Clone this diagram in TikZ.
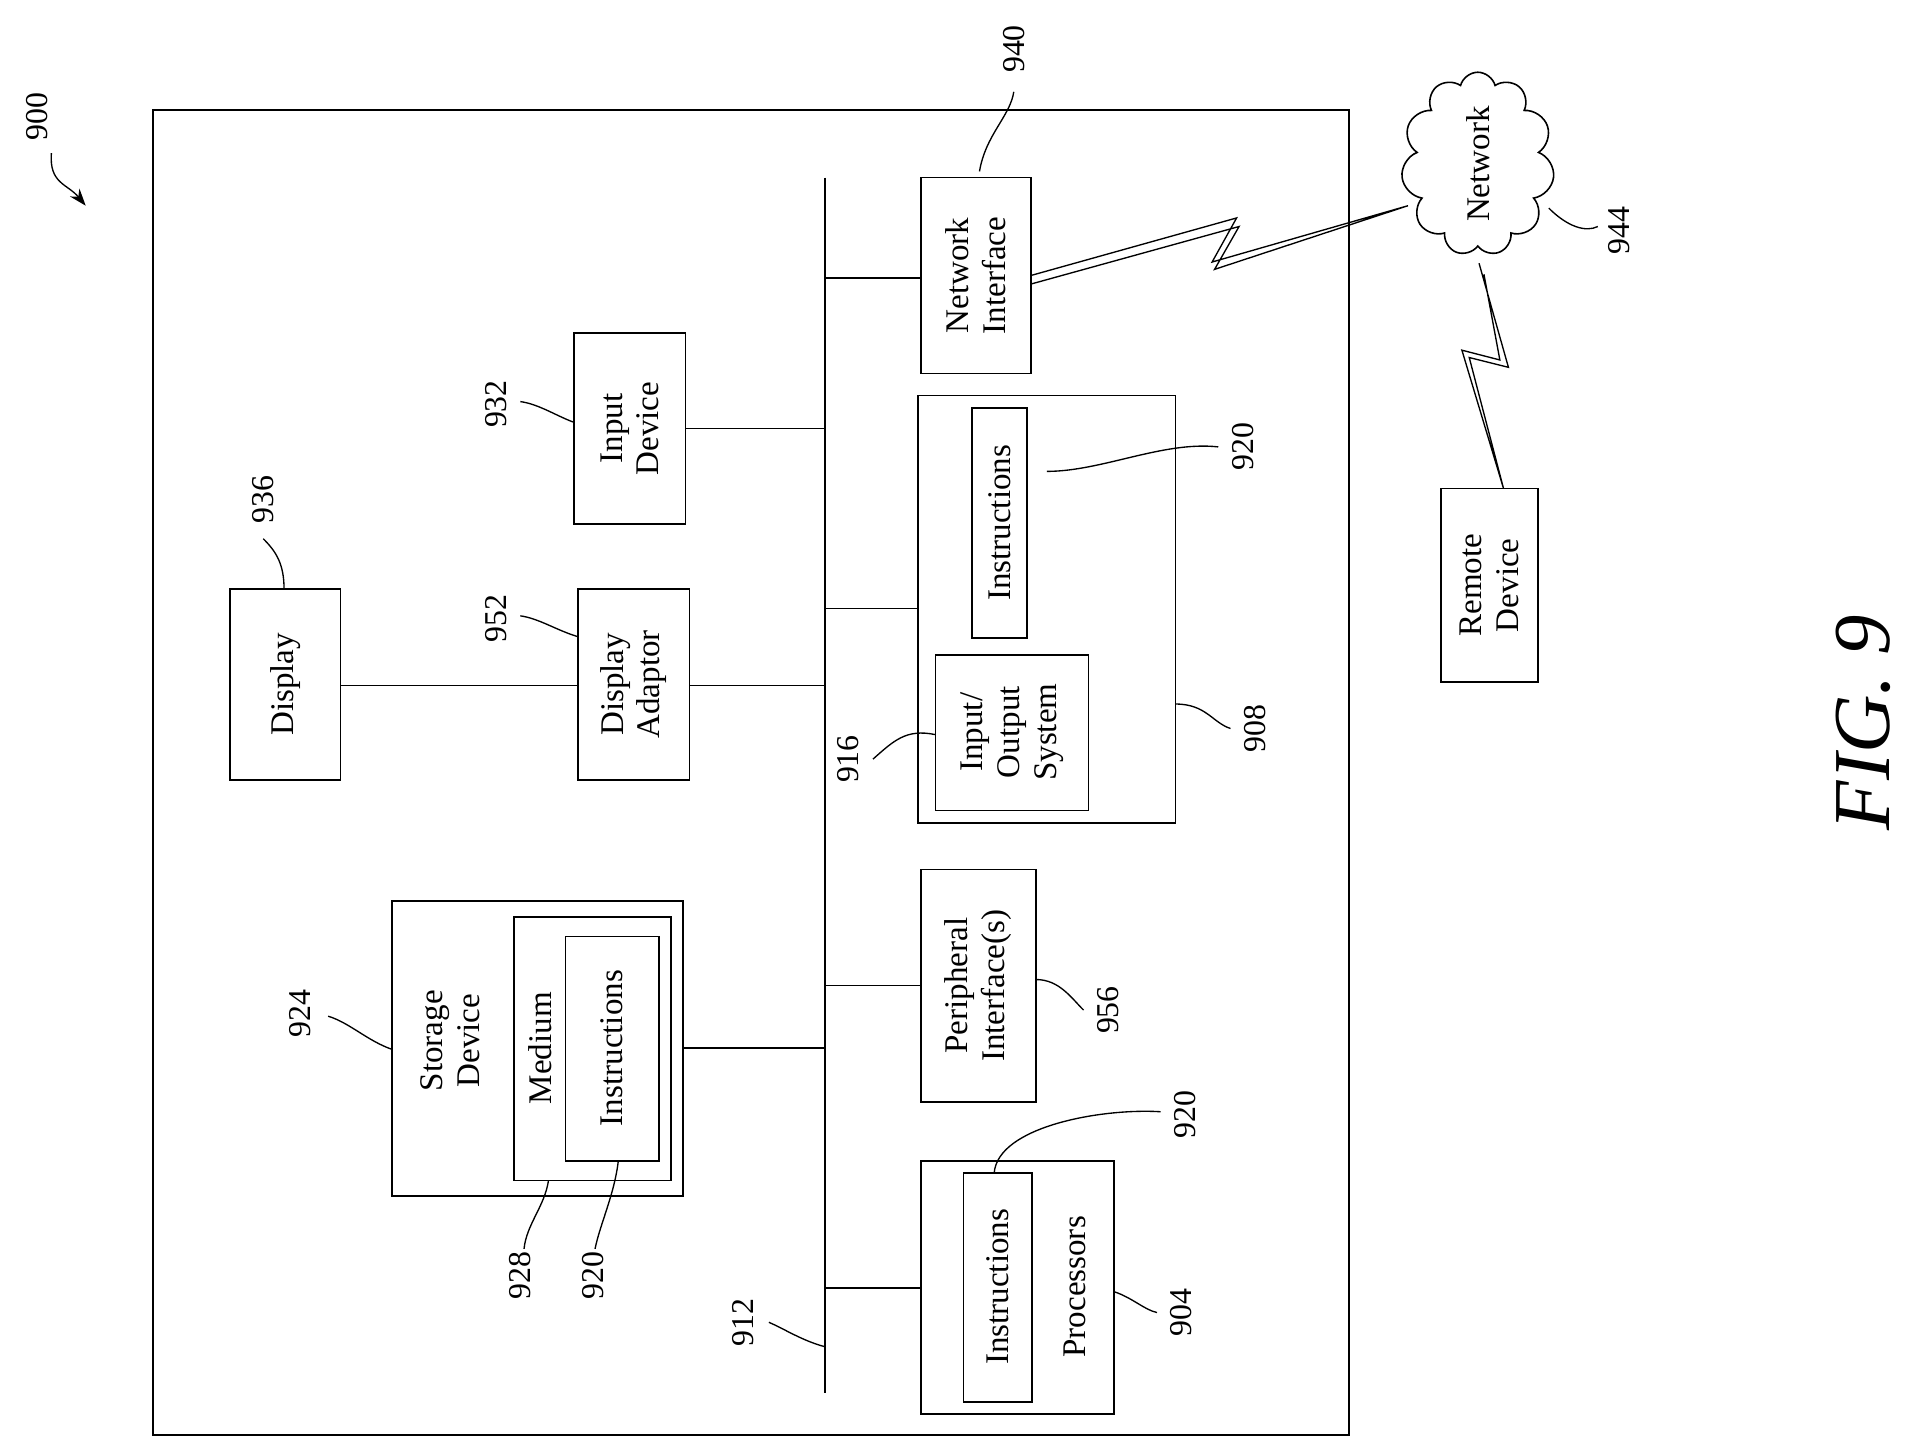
\documentclass[tikz,border=0pt]{standalone}
\usepackage{fontspec}
\setmainfont{Liberation Serif}
\usetikzlibrary{shapes.symbols,arrows.meta}
\begin{document}
\begin{tikzpicture}[x=1pt,y=-1pt,line width=1.3pt,
  box/.style={draw},
  lbl/.style={rotate=90,font=\fontsize{27}{30}\selectfont,align=center},
  num/.style={rotate=90,font=\fontsize{26}{28}\selectfont},
  ln/.style={line width=1.1pt}]
\useasboundingbox (0,0) rectangle (1560,1184.3);
% outer
\draw (125,90) rectangle (1102,1172);
\coordinate (bt) at (674,145); \coordinate (bb) at (674,1138);
\draw (bt) -- (bb);
% boxes
\draw (752,145) rectangle (842,305); \node[lbl] (ni) at (797,225) {Network\\Interface};
\draw (469,272) rectangle (560,428); \node[lbl] (id) at (514.5,350) {Input\\Device};
\draw (188,481) rectangle (278,637); \node[lbl] (dp) at (233,559) {Display};
\draw (472,481) rectangle (563,637); \node[lbl] (da) at (517.5,559) {Display\\Adaptor};
\draw (750,323) rectangle (960,672);
\draw (794,333) rectangle (839,521); \node[lbl] (in1) at (816.5,427) {Instructions};
\draw (764,535) rectangle (889,662); \node[lbl] (io) at (826.5,598) {Input/\\Output\\System};
\draw (752,710) rectangle (846,900); \node[lbl] (pi) at (799,805) {Peripheral\\Interface(s)};
\draw (752,948) rectangle (910,1155);
\draw (787,958) rectangle (843,1145); \node[lbl] (in2) at (815,1051) {Instructions};
\node[lbl] (pr) at (878,1051) {Processors};
\draw (320,736) rectangle (558,977); \node[lbl] (sd) at (368,850) {Storage\\Device};
\draw (420,749) rectangle (548,964); \node[lbl] (md) at (441,856) {Medium};
\draw (462,765) rectangle (538,948); \node[lbl] (in3) at (500,856) {Instructions};
\draw (1177,399) rectangle (1256,557); \node[lbl] (rd) at (1216.5,478) {Remote\\Device};
\node[draw,cloud,cloud puffs=11,minimum width=125pt,minimum height=150pt,aspect=0.8] (cl) at (1207,134) {};
\node[lbl] at (1207,134) {Network};
% bus connections
\draw (752,227) -- (674,227);
\draw (560,350) -- (674,350);
\draw (278,560) -- (472,560);
\draw (563,560) -- (674,560);
\draw (750,497) -- (674,497);
\draw (752,805) -- (674,805);
\draw (558,856) -- (674,856);
\draw (752,1052) -- (674,1052);
% lightning
\draw[ln] (842,225) -- (1010,178) -- (990,214) -- (1150,168) -- (992,220) -- (1012,185) -- (842,232);
\draw[ln] (1208,215) -- (1232,300) -- (1200,292) -- (1228,399) -- (1194,286) -- (1225,294) -- (1212,224);
% labels
\node[num] at (30,95) {900};
\draw[ln,-{Stealth[length=14pt,width=10pt]}] (42,125) .. controls (40,150) and (55,150) .. (70,168);
\node[num] at (828,40) {940};
\draw[ln] (800,140) .. controls (805,110) and (825,95) .. (828,75);
\node[num] at (1322,188) {944};
\draw[ln] (1265,170) .. controls (1280,185) and (1295,190) .. (1305,185);
\node[num] at (405,330) {932};
\draw[ln] (469,345) .. controls (455,340) and (440,330) .. (425,328);
\node[num] at (215,408) {936};
\draw[ln] (232,481) .. controls (232,460) and (225,450) .. (215,440);
\node[num] at (405,505) {952};
\draw[ln] (472,520) .. controls (455,515) and (440,505) .. (425,503);
\node[num] at (1015,365) {920};
\draw[ln] (855,385) .. controls (900,385) and (950,360) .. (995,365);
\node[num] at (693,620) {916};
\draw[ln] (764,600) .. controls (740,595) and (730,605) .. (713,620);
\node[num] at (1025,595) {908};
\draw[ln] (960,575) .. controls (985,575) and (990,590) .. (1005,595);
\node[num] at (245,828) {924};
\draw[ln] (320,857) .. controls (300,850) and (285,835) .. (268,830);
\node[num] at (905,825) {956};
\draw[ln] (846,800) .. controls (865,800) and (875,815) .. (885,825);
\node[num] at (968,910) {920};
\draw[ln] (812,958) .. controls (815,920) and (900,905) .. (948,908);
\node[num] at (425,1042) {928};
\draw[ln] (448,964) .. controls (445,985) and (430,1000) .. (428,1020);
\node[num] at (484,1042) {920};
\draw[ln] (505,948) .. controls (502,975) and (490,1000) .. (486,1020);
\node[num] at (607,1080) {912};
\draw[ln] (674,1100) .. controls (655,1095) and (640,1085) .. (628,1080);
\node[num] at (965,1072) {904};
\draw[ln] (910,1055) .. controls (925,1060) and (935,1070) .. (945,1072);
\node[rotate=90,font=\fontsize{66}{72}\selectfont\itshape] at (1522,590) {FIG. 9};
\end{tikzpicture}
\end{document}
